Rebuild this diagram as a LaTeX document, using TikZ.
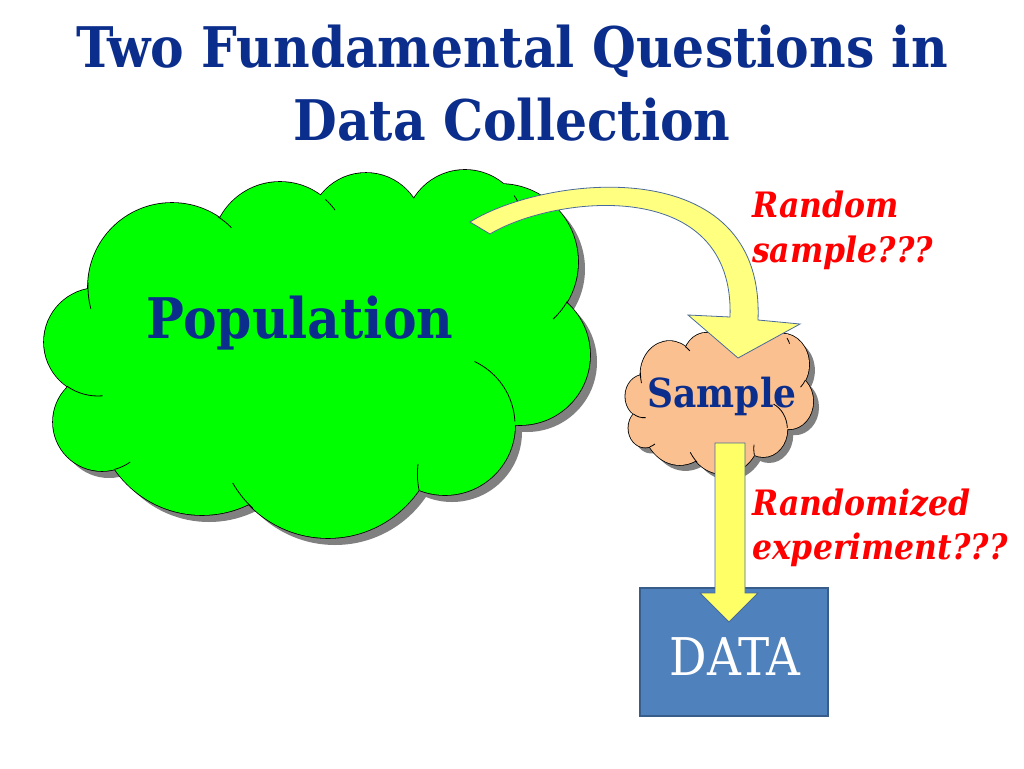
\documentclass[tikz,border=0pt]{standalone}
\usepackage{fontspec}
\setmainfont{DejaVu Serif Condensed}
\usepackage{xcolor}
\usetikzlibrary{positioning}
\definecolor{titleblue}{HTML}{0B2E8C}
\definecolor{popgreen}{HTML}{00FF00}
\definecolor{peach}{HTML}{FAC090}
\definecolor{datablue}{HTML}{4F81BD}
\definecolor{databorder}{HTML}{385D8A}
\definecolor{arrowyellow}{HTML}{FFFF66}
\definecolor{arrowpale}{HTML}{FFFF80}
\definecolor{arrowedge}{HTML}{4A6A9A}
\definecolor{shadowgray}{HTML}{808080}

% puffs of the cloud, in pixels of the population cloud
\newcommand{\cloudpuffs}{(172,287) circle[radius=84] (280,250) circle[radius=68]
  (366,230) circle[radius=57] (465,230) circle[radius=60] (500,262) circle[radius=78]
  (520,355) circle[radius=70] (445,425) circle[radius=70] (328,428) circle[radius=110]
  (202,409) circle[radius=106] (102,422) circle[radius=49] (98,342) circle[radius=54]}
\newcommand{\cloudcore}{(94,297) -- (226,217) -- (322,208) -- (414,204) -- (515,203)
  -- (562,305) -- (513,418) -- (417,485) -- (252,505) -- (118,464) -- (71,384) -- cycle}
\newcommand{\puffcloud}[3]{%
  \fill[shadowgray, shift={(#2,#3)}] \cloudpuffs \cloudcore;
  \draw[line width=1.6pt, fill=#1] \cloudpuffs;
  \fill[#1] \cloudpuffs \cloudcore;
  \draw[line width=0.8pt] (172,287) ++(165:84) arc[start angle=165, end angle=183, radius=84];
  \draw[line width=0.8pt] (172,287) ++(-57:84) arc[start angle=-57, end angle=-45, radius=84];
  \draw[line width=0.8pt] (280,250) ++(-48:68) arc[start angle=-48, end angle=-36, radius=68];
  \draw[line width=0.8pt] (465,230) ++(-35:60) arc[start angle=-35, end angle=-20, radius=60];
  \draw[line width=0.8pt] (500,262) ++(30:78) arc[start angle=30, end angle=47, radius=78];
  \draw[line width=0.8pt] (445,425) ++(-3:70) arc[start angle=-3, end angle=-65, radius=70];
  \draw[line width=0.8pt] (419,490) to[bend left=8] (418,464);
  \draw[line width=0.8pt] (328,428) ++(133:110) arc[start angle=133, end angle=150, radius=110];
  \draw[line width=0.8pt] (102,422) ++(75:49) arc[start angle=75, end angle=55, radius=49];
  \draw[line width=0.8pt] (98,342) ++(125:54) arc[start angle=125, end angle=85, radius=54];
}

\begin{document}
\begin{tikzpicture}[x=1pt, y=-1pt,
  heading/.style={text=titleblue, font=\fontsize{56}{66}\selectfont\bfseries, anchor=base, inner sep=0pt},
  asktext/.style={text=red, font=\fontsize{35}{44}\selectfont\bfseries\itshape, anchor=base west, inner sep=0pt},
  blockarrow/.style={line width=0.8pt, draw=arrowedge, line join=miter}
]
\useasboundingbox[fill=white] (0,0) rectangle (1024,768);

\node[heading] (title1) at (512,67) {Two Fundamental Questions in};
\node[heading] (title2) at (512,140) {Data Collection};

\puffcloud{popgreen}{7}{7}
\node[text=titleblue, font=\fontsize{56}{66}\selectfont\bfseries, anchor=base, inner sep=0pt] (poptext) at (300,338) {Population};

\begin{scope}[shift={(625,328)}, xscale=0.344, yscale=0.397, shift={(-43,-170)}]
  \puffcloud{peach}{17}{15}
\end{scope}
\node[text=titleblue, font=\fontsize{40}{48}\selectfont\bfseries, anchor=base, inner sep=0pt] (smptext) at (722,407) {Sample};

\node[draw=databorder, line width=1.2pt, fill=datablue, minimum width=188pt, minimum height=128pt, inner sep=0pt] (data) at (734,652) {};
\node[text=white, font=\fontsize{52}{60}\selectfont, anchor=base, inner sep=0pt] (datatext) at (735,675) {DATA};

\coordinate (smptip) at (738,358);
\coordinate (datatip) at (729,622);

\draw[blockarrow, fill=arrowpale] (470,222) .. controls (545,175) and (765,150) .. (758,320) -- (800,324) -- (smptip) -- (688,315) -- (730,317) .. controls (735,175) and (555,195) .. (490,234) -- cycle;
\draw[blockarrow, fill=arrowyellow] (715,443) -- (745,443) -- (745,593) -- (758,593) -- (datatip) -- (700,593) -- (715,593) -- cycle;

\node[asktext] (rs1) at (752,217) {Random};
\node[asktext] (rs2) at (752,262) {sample???};
\node[asktext] (re1) at (752,515) {Randomized};
\node[asktext] (re2) at (752,559) {experiment???};
\end{tikzpicture}
\end{document}
